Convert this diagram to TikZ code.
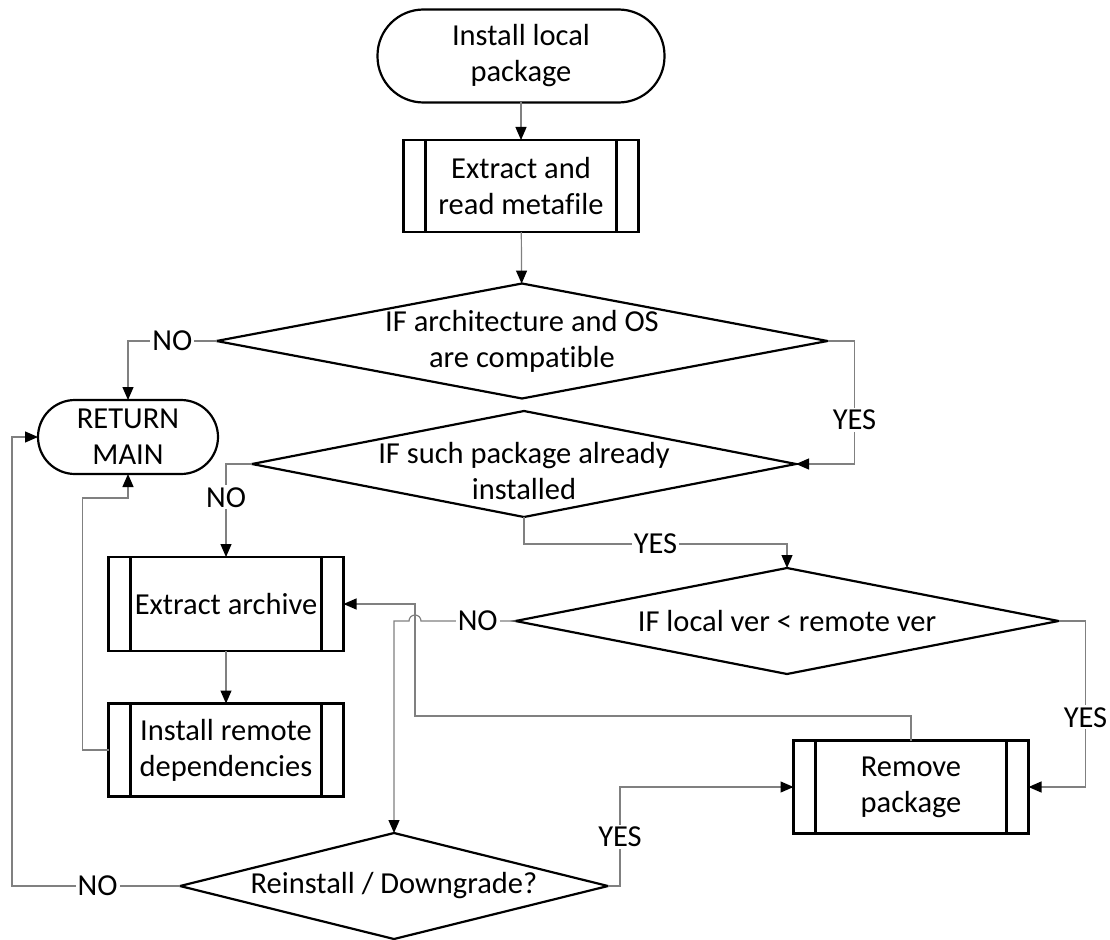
\documentclass[tikz,border=0pt]{standalone}
\usepackage{fontspec}
\setmainfont{Carlito}[Ligatures=NoCommon]
\usetikzlibrary{arrows.meta,shapes.geometric}

\begin{document}
\begin{tikzpicture}[x=1pt,y=-1pt,
  font=\fontsize{30.5pt}{36pt}\selectfont,
  box/.style={draw=black, line width=2.2pt, fill=white, align=center,
    inner sep=0pt, outer sep=0pt},
  terminal/.style={box, rectangle, rounded corners=#1},
  process/.style={box, rectangle, minimum width=235pt,
    path picture={\draw[line width=2.2pt]
      ([xshift=22pt]path picture bounding box.north west) --
      ([xshift=22pt]path picture bounding box.south west)
      ([xshift=-22pt]path picture bounding box.north east) --
      ([xshift=-22pt]path picture bounding box.south east);}},
  decision/.style={box, diamond},
  dtext/.style={align=center, inner sep=0pt},
  flow/.style={draw=gray, line width=1.2pt,
    -{Triangle[length=13pt,width=11pt,color=black]}},
  lbl/.style={fill=white, inner sep=2pt}
]
\useasboundingbox (0,0) rectangle (1110,939);

% main column
\node[terminal=46pt, minimum width=287pt, minimum height=93pt] (start) at (521,56)
  {Install local\\package};
\node[process, minimum height=92pt] (meta) at (521,186) {Extract and\\read metafile};
\node[decision, minimum width=611pt, minimum height=115pt] (d1) at (522,341) {};
\node[dtext] (d1t) at (d1.center) {IF architecture and OS\\are compatible};
\node[terminal=37pt, minimum width=180pt, minimum height=74pt] (ret) at (128,437)
  {RETURN\\MAIN};
\node[decision, minimum width=544pt, minimum height=106pt] (d2) at (524,464) {};
\node[dtext] (d2t) at (524,471) {IF such package already\\installed};

% install branch
\node[process, minimum height=94pt] (arch) at (226,604) {Extract archive};
\node[process, minimum height=93pt] (dep) at (226,750) {Install remote\\dependencies};

% version check branch
\node[decision, minimum width=543pt, minimum height=106pt] (d3) at (787,621) {};
\node[dtext] (d3t) at (d3.center) {IF local ver < remote ver};
\node[process, minimum height=93pt] (rem) at (911,787) {Remove\\package};
\node[decision, minimum width=428pt, minimum height=106pt] (d4) at (394,886) {};
\node[dtext] (d4t) at (d4.center) {Reinstall / Downgrade?};

\coordinate (jog) at (415,716);

% connectors
\draw[flow] (start) -- (meta);
\draw[flow] (meta) -- (d1);
\draw[flow] (d1.west) -- node[lbl]{NO} (d1.west -| ret.north) -- (ret.north);
\draw[flow] (d1.east) -- ++(27,0) |- node[lbl, pos=0.32]{YES} (d2.east);
\draw[flow] (d2.west) -| node[lbl, pos=0.68]{NO} (arch.north);
\draw[flow] (d2.south) -- ++(0,27) -| node[lbl, pos=0.25]{YES} (d3.north);
\draw[flow] (d3.west) -- node[lbl, pos=0.4]{NO} ([xshift=6pt]d3.west -| jog)
  arc[start angle=0, end angle=180, radius=6pt] -- (d3.west -| d4.north) -- (d4.north);
\draw[flow] (d3.east) -- ++(27,0) |- node[lbl, pos=0.29]{YES} (rem.east);
\draw[flow] (rem.north) |- (jog) |- (arch.east);
\draw[flow] (arch) -- (dep);
\draw[flow] (dep.west) -- ++(-26,0) |- ([yshift=-24pt]ret.south) -- (ret.south);
\draw[flow] (d4.west) -- node[lbl, pos=0.49]{NO} ++(-168,0) |- (ret.west);
\draw[flow] (d4.east) -- ++(12,0) |- node[lbl, pos=0.25]{YES} (rem.west);
\end{tikzpicture}
\end{document}
